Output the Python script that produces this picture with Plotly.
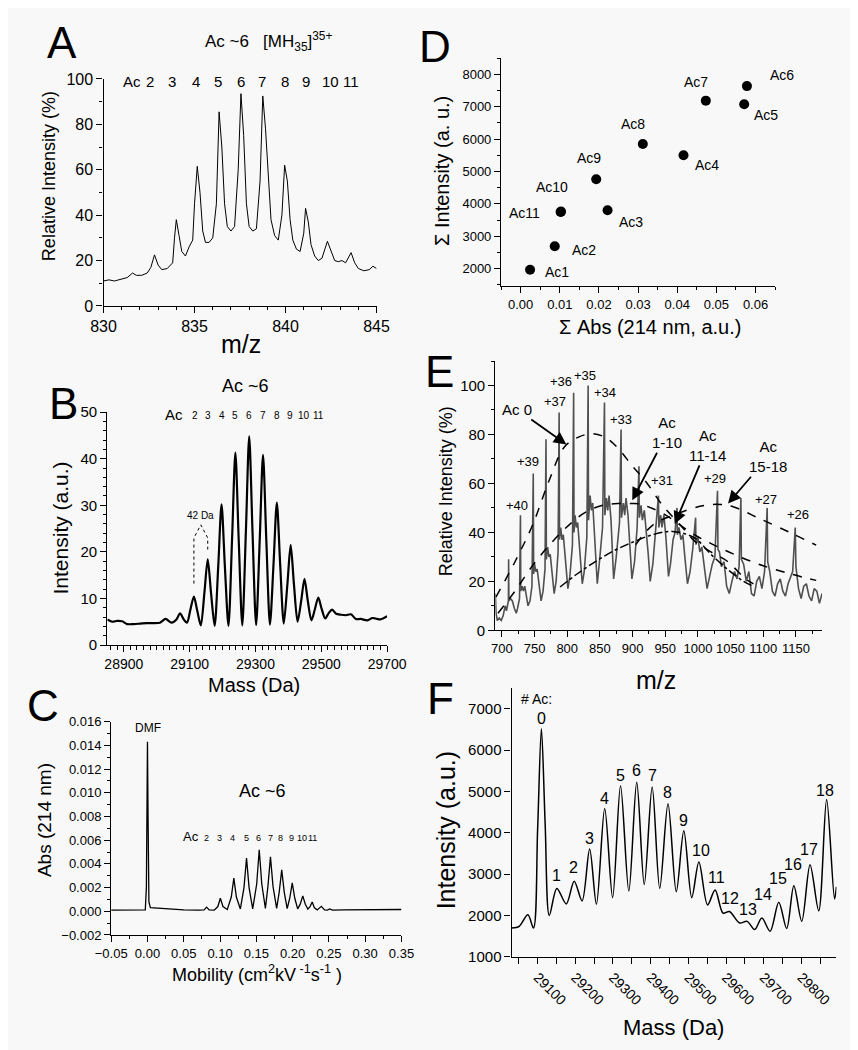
import plotly.graph_objects as go

W, H = 858, 1050
TICK_FONT = "Liberation Sans, Arial, sans-serif"
LABEL_FONT = "Liberation Sans, Arial, sans-serif"
BG = "#f8f8f8"

# ---------------- Panel A : [MH35]35+ spectrum ----------------
a_mz = [830.0, 830.3, 830.6, 831.0, 831.3, 831.6, 831.8, 832.1, 832.4, 832.6, 832.8, 833.0, 833.2, 833.5,
        833.8, 833.9, 834.0, 834.15, 834.3, 834.5, 834.7, 834.9, 835.0, 835.15, 835.3, 835.45, 835.6, 835.8,
        836.0, 836.2, 836.35, 836.5, 836.65, 836.8, 837.0, 837.2, 837.4, 837.55, 837.7, 837.85, 838.0, 838.2,
        838.4, 838.6, 838.75, 838.9, 839.05, 839.2, 839.4, 839.6, 839.8, 839.95, 840.1, 840.25, 840.4, 840.6,
        840.8, 841.0, 841.1, 841.25, 841.4, 841.6, 841.8, 842.0, 842.3, 842.5, 842.7, 842.9, 843.1, 843.3,
        843.6, 843.8, 844.0, 844.3, 844.6, 844.8, 845.0]
a_int = [11, 11.5, 11, 12, 12.5, 14.5, 13.5, 13.5, 14.5, 17, 22.5, 18, 16, 16.5,
         19, 30, 38, 31, 24, 22, 26, 29, 45, 61.5, 50, 33, 28, 28,
         30, 45, 85.5, 70, 45, 35, 33, 35, 60, 93.5, 75, 45, 35, 33,
         34, 55, 92.5, 78, 55, 38, 31, 29, 40, 62, 55, 38, 29, 25,
         24, 32, 43, 37, 27, 22, 20, 21, 28.5, 24, 20, 19.5, 20, 19,
         23.5, 19, 16.5, 15.5, 16, 17.5, 16.5]
a_ac_labels = ["Ac", "2", "3", "4", "5", "6", "7", "8", "9", "10", "11"]

# ---------------- Panel B : deconvoluted mass spectrum ----------------
b_mass = [28850, 28865, 28880, 28895, 28910, 28930, 28950, 28970, 28990, 29010, 29027, 29045, 29060, 29071,
          29082, 29092, 29102, 29113, 29123, 29134, 29145, 29155, 29165, 29176, 29187, 29197, 29207, 29218,
          29229, 29239, 29249, 29260, 29271, 29281, 29291, 29302, 29313, 29323, 29333, 29344, 29355, 29365,
          29375, 29386, 29397, 29407, 29417, 29428, 29439, 29449, 29459, 29470, 29481, 29491, 29501, 29512,
          29522, 29533, 29545, 29560, 29575, 29590, 29605, 29620, 29640, 29655, 29665, 29680, 29700]
b_int = [5.5, 5.0, 5.2, 5.1, 4.5, 4.5, 4.6, 4.7, 4.7, 4.8, 5.6, 4.8, 5.5, 6.8,
         5.5, 4.8, 7.5, 10.4, 7.4, 4.2, 11.3, 18.4, 11.2, 4.1, 17.0, 30.2, 17.0, 4.1,
         22.8, 41.3, 22.8, 4.2, 24.5, 44.8, 24.5, 4.3, 22.6, 40.8, 22.6, 4.4, 17.5, 30.6,
         17.5, 4.6, 13.0, 21.5, 13.0, 5.0, 9.5, 14.2, 9.5, 5.3, 7.8, 10.2, 7.8, 5.7,
         6.8, 7.6, 6.7, 6.5, 6.4, 6.6, 5.6, 5.6, 5.3, 5.8, 5.7, 5.5, 6.2]
b_bracket_x = [29113, 29113, 29134, 29155, 29155]
b_bracket_y = [13.2, 23.0, 25.8, 23.0, 20.5]
b_ac_numbers = ["2", "3", "4", "5", "6", "7", "8", "9", "10", "11"]

# ---------------- Panel C : capillary electrophoresis ----------------
c_mob = [-0.05, -0.03, -0.01, -0.003, -0.0015, -0.0005, 0.0, 0.0008, 0.002, 0.004, 0.008, 0.02, 0.035,
         0.05, 0.07, 0.078, 0.0815, 0.085, 0.092, 0.097, 0.1004, 0.104, 0.110, 0.1155, 0.119, 0.1225,
         0.128, 0.133, 0.1365, 0.140, 0.145, 0.1505, 0.154, 0.1575, 0.1625, 0.166, 0.1695, 0.173, 0.178,
         0.1815, 0.185, 0.1885, 0.1925, 0.196, 0.1995, 0.203, 0.207, 0.2105, 0.214, 0.2175, 0.221, 0.224,
         0.227, 0.230, 0.234, 0.2396, 0.244, 0.248, 0.251, 0.255, 0.27, 0.30, 0.35]
c_abs = [0.0001, 0.0001, 0.00012, 0.00012, 0.002, 0.011, 0.0143, 0.008, 0.0008, 0.0003, 0.00028, 0.00022, 0.00015,
         0.00012, 0.0001, 0.00012, 0.00035, 0.00012, 0.0001, 0.0004, 0.0011, 0.0004, 0.00015, 0.0012, 0.0028, 0.0012,
         0.0002, 0.0020, 0.0045, 0.0020, 0.0002, 0.0023, 0.0052, 0.0023, 0.00025, 0.0021, 0.0046, 0.0021, 0.00025,
         0.0016, 0.0035, 0.0016, 0.00022, 0.0011, 0.0024, 0.0011, 0.0002, 0.0006, 0.0013, 0.0006, 0.00018, 0.0004,
         0.00078, 0.0003, 0.00012, 0.00042, 0.00012, 0.0001, 0.0002, 0.0001, 0.00012, 0.00013, 0.00015]

# ---------------- Panel D : intensity vs absorbance ----------------
d_labels = ["Ac1", "Ac2", "Ac3", "Ac4", "Ac5", "Ac6", "Ac7", "Ac8", "Ac9", "Ac10", "Ac11"]
d_abs = [0.0024, 0.0087, 0.0222, 0.0416, 0.0571, 0.0578, 0.0473, 0.0312, 0.0193, 0.0103, 0.0102]
d_int = [1960, 2690, 3800, 5500, 7080, 7640, 7190, 5850, 4760, 3760, 3745]

# ---------------- Panel E : full charge-state spectrum ----------------
e_mz = [690, 691, 693, 696, 699, 702, 705, 707, 710, 710.3, 710.7, 713, 716, 719, 722, 724, 727, 728.4, 728.9,
        731, 733, 735, 737, 740, 743, 746, 748, 748.6, 750, 752, 754, 757, 760, 763, 766, 767.5, 768.1,
        770, 772, 774, 777, 780, 783, 786, 787.6, 788.2, 790, 792, 794, 797, 801, 804, 808, 809.8, 810.4,
        812, 814, 816, 819, 823, 826, 830, 832, 832.6, 835, 837, 839, 842, 846, 849, 854, 857, 857.6,
        860, 862, 864, 867, 871, 875, 880, 882.4, 883, 886, 888, 890, 893, 896, 899, 903, 907, 909.8, 910.4,
        913, 915, 918, 921, 924, 927, 931, 935, 939.6, 940.2, 943, 945, 948, 951, 955, 958, 962, 965, 968,
        968.6, 971, 974, 977, 980, 984, 988, 992, 996.5, 997, 1000, 1003, 1006, 1010, 1014, 1018, 1022, 1026,
        1030, 1030.7, 1033, 1036, 1040, 1044, 1048, 1052, 1056, 1060, 1063, 1065.8, 1066.5, 1070, 1074, 1078,
        1082, 1086, 1090, 1094, 1098, 1102, 1106, 1106.8, 1110, 1114, 1118, 1122, 1126, 1130, 1134, 1138,
        1142, 1145, 1149, 1150, 1154, 1158, 1162, 1166, 1170, 1174, 1178, 1182, 1186, 1190]
e_int = [15, 7, 4, 5, 4, 6, 10, 8, 12, 29, 12, 13, 12, 9, 7, 9, 13, 47, 16,
         18, 16, 18, 14, 10, 12, 18, 64, 23, 27, 24, 25, 18, 12, 16, 25, 78, 29,
         34, 30, 31, 24, 15, 20, 32, 89, 37, 42, 37, 39, 29, 17, 22, 35, 97, 40,
         47, 42, 44, 33, 19, 24, 38, 100, 45, 55, 49, 52, 37, 19, 27, 42, 93, 47,
         54, 49, 55, 45, 21, 30, 44, 82, 46, 52, 47, 54, 47, 35, 21, 28, 42, 67, 46,
         51, 45, 49, 41, 31, 20, 27, 40, 55, 42, 47, 42, 47, 38, 22, 27, 37, 40, 50,
         39, 42, 37, 39, 30, 19, 24, 33, 46, 35, 38, 32, 34, 25, 17, 22, 27, 30,
         57, 33, 32, 26, 28, 18, 15, 20, 24, 21, 26, 54, 29, 27, 20, 24,
         15, 14, 20, 22, 17, 24, 50, 28, 24, 16, 14, 19, 21, 16, 14, 19,
         22, 24, 42, 26, 17, 13, 18, 19, 14, 12, 17, 16, 11, 15]
e_env_ac0_x = [691, 720, 747, 772, 796, 818, 840, 860, 879, 900, 921, 946, 975, 995, 1020, 1044, 1073, 1085]
e_env_ac0_y = [13.6, 28, 43, 61, 75, 79, 80.3, 78.5, 74, 67, 60.5, 51, 42.4, 36.4, 32, 28.4, 21, 19]
e_env_ac1_10_x = [694, 720, 747, 775, 806, 830, 855, 880, 899, 912, 946, 995, 1044, 1093, 1142, 1181]
e_env_ac1_10_y = [7, 16, 26.4, 35.5, 43.8, 48.5, 51.1, 51.8, 51.8, 51.5, 47.8, 39, 32.4, 27, 23, 20.4]
e_env_ac11_14_x = [789, 815, 845, 875, 904, 930, 961, 995, 1020, 1045, 1070, 1085]
e_env_ac11_14_y = [17.7, 23, 28.4, 33, 36.4, 39, 40.4, 37.7, 31, 25, 20, 18]
e_env_ac15_18_x = [905, 931, 970, 1010, 1034, 1054, 1093, 1142, 1181]
e_env_ac15_18_y = [35, 43, 47.8, 51, 51.4, 50.5, 45.8, 39.8, 34.8]
e_charge_labels = ["+40", "+39", "+37", "+36", "+35", "+34", "+33", "+31", "+29", "+27", "+26"]
e_group_labels = ["Ac 0", "Ac<br>1-10", "Ac<br>11-14", "Ac<br>15-18"]

# ---------------- Panel F : deconvoluted full spectrum ----------------
f_mass = [29031, 29051, 29074, 29089, 29100, 29110, 29120, 29131, 29151, 29176, 29197, 29218, 29238, 29256,
          29278, 29299, 29320, 29342, 29363, 29383, 29404, 29424, 29446, 29468, 29488, 29509, 29528, 29551,
          29571, 29592, 29609, 29636, 29656, 29676, 29695, 29717, 29740, 29761, 29780, 29801, 29823, 29846,
          29867, 29888, 29893]
f_int = [1694, 1734, 2013, 1694, 4100, 6522, 4200, 1997, 2652, 2277, 2827, 2349, 3609, 2269,
         4590, 2428, 5141, 2588, 5221, 2747, 5109, 2652, 4702, 2572, 4048, 2428, 3290, 2253,
         2612, 2053, 2093, 1814, 1854, 1654, 1934, 1614, 2317, 1678, 2716, 1854, 3226, 2109,
         4806, 2397, 2692]
f_ac_numbers = [str(i) for i in range(19)]

for a, b in [(a_mz, a_int), (b_mass, b_int), (c_mob, c_abs), (d_abs, d_int), (e_mz, e_int),
             (f_mass, f_int), (e_env_ac0_x, e_env_ac0_y), (e_env_ac1_10_x, e_env_ac1_10_y),
             (e_env_ac11_14_x, e_env_ac11_14_y), (e_env_ac15_18_x, e_env_ac15_18_y)]:
    assert len(a) == len(b), (len(a), len(b))


def px(x):
    return x / W


def py(y):
    return 1 - y / H


fig = go.Figure()


def line(x, y, xa, ya, color="black", width=1.2, shape="linear", dash="solid", smoothing=1.0):
    fig.add_trace(go.Scatter(x=x, y=y, mode="lines", xaxis=xa, yaxis=ya, showlegend=False,
                             hoverinfo="skip",
                             line=dict(color=color, width=width, shape=shape, dash=dash,
                                       smoothing=smoothing)))


line(a_mz, a_int, "x", "y", width=1.0)
line(b_mass, b_int, "x2", "y2", width=2.2, shape="spline", smoothing=0.8)
line(b_bracket_x, b_bracket_y, "x2", "y2", width=1, dash="dot")
line(c_mob, c_abs, "x3", "y3", width=1.3)
fig.add_trace(go.Scatter(x=d_abs, y=d_int, mode="markers", xaxis="x4", yaxis="y4", showlegend=False,
                         hoverinfo="skip", marker=dict(color="black", size=10)))
line(e_mz, e_int, "x5", "y5", color="#505050", width=1.6)
line(e_env_ac0_x, e_env_ac0_y, "x5", "y5", width=1.5, shape="spline", dash="dash")
line(e_env_ac1_10_x, e_env_ac1_10_y, "x5", "y5", width=1.5, shape="spline", dash="dash")
line(e_env_ac11_14_x, e_env_ac11_14_y, "x5", "y5", width=1.5, shape="spline", dash="dashdot")
line(e_env_ac15_18_x, e_env_ac15_18_y, "x5", "y5", width=1.5, shape="spline", dash="dash")
line(f_mass, f_int, "x6", "y6", width=1.5, shape="spline", smoothing=0.9)


def axis(domain, rng, anchor, size=13, minor=None, **kw):
    d = dict(domain=domain, range=rng, anchor=anchor, showline=True, linecolor="black", linewidth=1.3,
             ticks="outside", ticklen=6, tickwidth=1.3, tickcolor="black", showgrid=False, zeroline=False,
             mirror=False, tickfont=dict(family=TICK_FONT, size=size, color="black"))
    if minor is not None:
        m = dict(ticks="outside", ticklen=3, tickwidth=1, tickcolor="black", showgrid=False)
        m.update(minor)
        d["minor"] = m
    d.update(kw)
    return d


layout_axes = dict(
    xaxis=axis([px(83), px(368)], [830, 845], "y", size=16, tick0=830, dtick=5,
               minor=dict(tick0=830, dtick=1)),
    yaxis=axis([py(294), py(63)], [0, 100], "x", size=16, tick0=0, dtick=20,
               minor=dict(tick0=0, dtick=10)),
    xaxis2=axis([px(87), px(379)], [28850, 29700], "y2", size=14, tick0=28900, dtick=200,
                tickformat="d", minor=dict(tick0=28900, dtick=20, ticklen=4)),
    yaxis2=axis([py(639), py(402)], [0, 50], "x2", size=15, tick0=0, dtick=10,
                minor=dict(tick0=0, dtick=2)),
    xaxis3=axis([px(91), px(394)], [-0.05, 0.35], "y3", size=13, tick0=-0.05, dtick=0.05,
                tickformat=".2f", minor=dict(tick0=-0.05, dtick=0.025)),
    yaxis3=axis([py(934), py(717)], [-0.002, 0.016], "x3", size=13, tick0=0, dtick=0.002,
                tickformat=".3f", minor=dict(tick0=0, dtick=0.001)),
    xaxis4=axis([px(498), px(784)], [-0.005, 0.065], "y4", size=13, tick0=0, dtick=0.01,
                tickformat=".2f", minor=dict(tick0=0, dtick=0.005)),
    yaxis4=axis([py(274), py(42)], [1450, 8500], "x4", size=13, tick0=2000, dtick=1000,
                minor=dict(tick0=2000, dtick=500)),
    xaxis5=axis([px(492), px(833)], [690, 1190], "y5", size=13, tick0=700, dtick=50,
                minor=dict(tick0=700, dtick=25)),
    yaxis5=axis([py(624), py(350)], [0, 110], "x5", size=15, tick0=0, dtick=20,
                minor=dict(tick0=0, dtick=10)),
    xaxis6=axis([px(509), px(848)], [29031, 29893], "y6", size=14, tick0=29100, dtick=100,
                tickformat="d", tickangle=45,
                minor=dict(tick0=29050, dtick=50, ticklen=6, tickwidth=1.3)),
    yaxis6=axis([py(956), py(683)], [1000, 7500], "x6", size=15, tick0=1000, dtick=1000),
)

ann = []


def txt(x, y, s, size, angle=0, family=LABEL_FONT, xanchor="center", yanchor="middle"):
    ann.append(dict(x=px(x), y=py(y), xref="paper", yref="paper", text=s, showarrow=False,
                    textangle=angle, xanchor=xanchor, yanchor=yanchor,
                    font=dict(family=family, size=size, color="black")))


# panel letters
for letter, (lx, ly) in zip("ABCDEF", [(40, 26), (41, 393), (20, 701), (429, 30), (434, 361), (435, 693)]):
    txt(lx, ly, letter, 44)

# Panel A texts
txt(255, 25, "Ac ~6   [MH<sub>35</sub>]<sup>35+</sup>", 17)
A_LABEL_PX = [113, 132, 155, 180, 203, 227, 248, 272, 294, 320, 341]
for s, lx in zip(a_ac_labels, A_LABEL_PX):
    txt(lx, 66, s, 15)
txt(26, 162, "Relative Intensity (%)", 18, angle=-90)
txt(227, 333, "m/z", 25)

# Panel B texts
txt(231, 375, "Ac ~6", 18)
txt(157, 404, "Ac", 15)
B_LABEL_PX = [178, 192, 207, 220, 235, 249, 264, 278, 292, 307]
for s, lx in zip(b_ac_numbers, B_LABEL_PX):
    txt(lx, 405, s, 10)
ann.append(dict(x=29134, y=26.3, xref="x2", yref="y2", text="42 Da", showarrow=False, yanchor="bottom",
                font=dict(family=LABEL_FONT, size=10, color="black")))
txt(38, 520, "Intensity (a.u.)", 21, angle=-90)
txt(240, 680, "Mass (Da)", 20)

# Panel C texts
txt(129, 723, "DMF", 12)
txt(249, 788, "Ac ~6", 18)
txt(174, 834, "Ac", 13)
C_LABEL_PX = [190, 204, 218, 232, 245, 257, 268, 279, 290, 301]
for s, lx in zip(b_ac_numbers, C_LABEL_PX):
    txt(lx, 835, s, 9)
txt(22, 817, "Abs (214 nm)", 19, angle=-90)
txt(243, 973, "Mobility (cm<sup>2</sup>kV<sup> -1</sup>s<sup>-1</sup> )", 18)

# Panel D texts
D_LABEL_OFFSETS = [(27, 2), (29, 4), (23, 12), (23, 10), (22, 11), (35, -11), (-10, -19), (-10, -20),
                   (-7, -21), (-9, -25), (-36, 1)]
for s, xv, yv, (dx, dy) in zip(d_labels, d_abs, d_int, D_LABEL_OFFSETS):
    ann.append(dict(x=xv, y=yv, xref="x4", yref="y4", text=s, showarrow=False, xshift=dx, yshift=-dy,
                    font=dict(family=LABEL_FONT, size=14, color="black")))
txt(437, 157, "Σ Intensity (a. u.)", 20, angle=-90)
txt(653, 315, "Σ Abs (214 nm, a.u.)", 20)

# Panel E texts
E_LABEL_POS = [(723.5, 51.1), (740.6, 68.8), (780.7, 93.3), (791, 101.7), (827.6, 104), (858, 97.3),
               (882.4, 86.2), (945, 61.2), (1026.7, 61.8), (1103.9, 53.5), (1153.8, 47.1)]
for s, (lx, ly) in zip(e_charge_labels, E_LABEL_POS):
    ann.append(dict(x=lx, y=ly, xref="x5", yref="y5", text=s, showarrow=False,
                    font=dict(family=LABEL_FONT, size=13, color="black")))
# group labels with arrows: text sits at the label position, arrow head at the envelope
E_GROUP_POS = [(723.5, 90.2), (953.4, 80.7), (1015.4, 75.5), (1107.4, 70.9)]
E_ARROW_TIPS = [(798.7, 75.9), (899.5, 53.1), (964.5, 43.4), (1046.2, 51.8)]
for s, (lx, ly), (tx, ty) in zip(e_group_labels, E_GROUP_POS, E_ARROW_TIPS):
    ann.append(dict(x=tx, y=ty, xref="x5", yref="y5", ax=lx, ay=ly, axref="x5", ayref="y5", text=s,
                    showarrow=True, arrowhead=2, arrowsize=1.4, arrowwidth=1.8, arrowcolor="black",
                    font=dict(family=LABEL_FONT, size=15, color="black")))
txt(440, 483, "Relative Intensity (%)", 18, angle=-90)
txt(660, 675, "m/z", 25)

# Panel F texts
F_LABEL_PX = [(540, 714), (556, 873), (574, 865), (590, 836), (606, 795), (623, 772), (639, 767), (656, 772),
              (672, 789), (688, 818), (707, 848), (723, 876), (737, 897), (756, 908), (771, 893), (787, 877),
              (803, 862), (819, 847), (836, 787)]
for s, (lx, ly) in zip(f_ac_numbers, F_LABEL_PX):
    txt(lx, ly, s, 16)
txt(535, 694, "# Ac:", 14)
txt(440, 828, "Intensity (a.u.)", 25, angle=-90)
txt(678, 1028, "Mass (Da)", 22)

fig.update_layout(
    width=W, height=H, margin=dict(l=0, r=0, t=0, b=0),
    paper_bgcolor=BG, plot_bgcolor=BG,
    font=dict(family=LABEL_FONT, color="black"),
    annotations=ann, showlegend=False,
    **layout_axes,
)

fig.write_html("out.html")
